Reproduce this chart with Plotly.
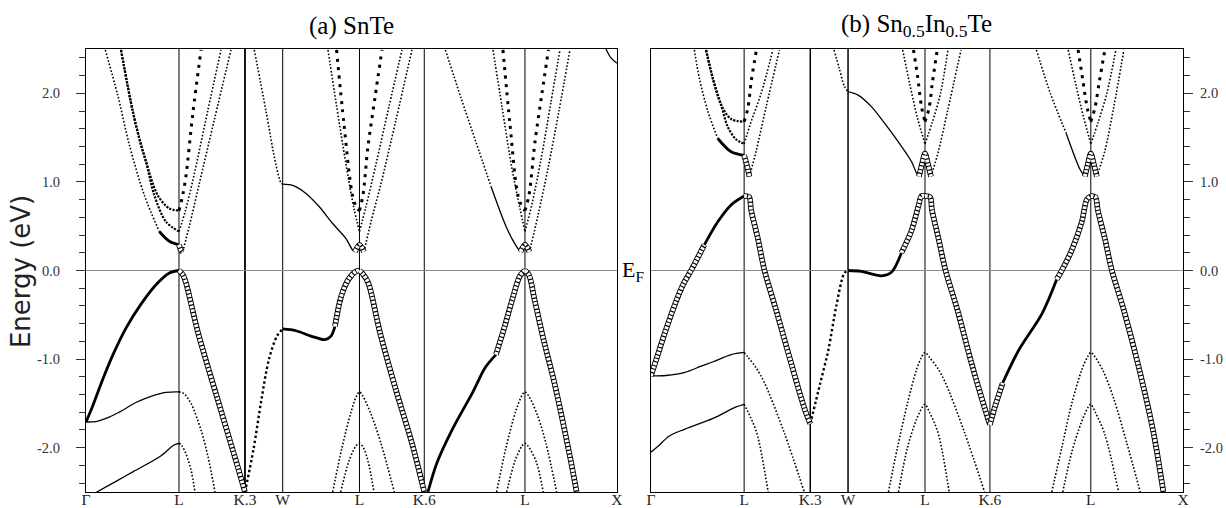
"""Band structures of SnTe and Sn0.5In0.5Te along the Γ-L-K-W-L-K-L-X path."""

import plotly.graph_objects as go

# high-symmetry points (same path in both panels)
K_TICKS = [0.0, 0.93, 1.59, 1.967, 2.735, 3.383, 4.39, 5.31]
K_LABELS = ["Γ", "L", "K.3", "W", "L", "K.6", "L", "X"]
E_TICKS = [-2.0, -1.0, 0.0, 1.0, 2.0]
E_LABELS = ["-2.0", "-1.0", "0.0", "1.0", "2.0"]

# ---- (a) SnTe: (k, E) knots ----
A_VB1_GL = [(0, -1.71), (0.06, -1.55), (0.16, -1.25), (0.27, -0.95), (0.4, -0.65),
            (0.55, -0.38), (0.7, -0.16), (0.83, -0.03), (0.93, 0.0)]
A_VB2_GL = [(0, -1.71), (0.1, -1.705), (0.2, -1.67), (0.33, -1.6), (0.5, -1.49),
            (0.65, -1.42), (0.8, -1.375), (0.93, -1.37)]
A_VB3_GL = [(0.107, -2.5), (0.3, -2.38), (0.473, -2.27), (0.74, -2.1), (0.88, -1.97), (0.93, -1.95)]
A_VB1_LK = [(0.93, 0.0), (0.97, -0.05), (1.0, -0.14), (1.12, -0.7), (1.318, -1.46),
            (1.516, -2.21), (1.59, -2.5)]
A_VB2_LK = [(0.93, -1.37), (0.98, -1.39), (1.05, -1.5), (1.15, -1.8), (1.22, -2.1), (1.29, -2.5)]
A_VB3_LK = [(0.93, -1.95), (0.96, -1.98), (1.0, -2.07), (1.05, -2.25), (1.09, -2.5)]
A_VB_KW = [(1.59, -2.5), (1.675, -2.02), (1.754, -1.46), (1.83, -1.0), (1.91, -0.74), (1.967, -0.66)]
A_VB_WL_FAT = [(1.967, -0.66), (2.1, -0.68), (2.25, -0.74), (2.39, -0.78), (2.45, -0.74), (2.49, -0.63)]
A_VB_WL_RING = [(2.49, -0.63), (2.55, -0.3), (2.625, -0.1), (2.7, -0.01), (2.735, 0.0)]
A_VB_LK6 = [(2.735, 0.0), (2.77, -0.04), (2.823, -0.14), (2.94, -0.7), (3.1, -1.35),
            (3.26, -1.95), (3.383, -2.5)]
A_VB_L2_1 = [(2.467, -2.5), (2.56, -2.0), (2.65, -1.6), (2.7, -1.43), (2.735, -1.37),
             (2.77, -1.42), (2.85, -1.62), (2.95, -1.95), (3.083, -2.5)]
A_VB_L2_2 = [(2.547, -2.5), (2.63, -2.15), (2.7, -1.98), (2.735, -1.95), (2.77, -1.99),
             (2.82, -2.15), (2.88, -2.5)]
A_VB_K6L_FAT = [(3.42, -2.5), (3.51, -2.17), (3.67, -1.78), (3.87, -1.37), (3.99, -1.1), (4.1, -0.95)]
A_VB_K6L_RING = [(4.1, -0.95), (4.19, -0.62), (4.27, -0.3), (4.34, -0.06), (4.39, 0.0)]
A_VB_LX = [(4.39, 0.0), (4.43, -0.05), (4.486, -0.33), (4.58, -0.8), (4.685, -1.27),
           (4.84, -2.1), (4.907, -2.5)]
A_VB_L3_1 = [(4.107, -2.5), (4.2, -2.0), (4.3, -1.58), (4.36, -1.41), (4.39, -1.37),
             (4.43, -1.42), (4.52, -1.65), (4.6, -1.95), (4.707, -2.5)]
A_VB_L3_2 = [(4.207, -2.5), (4.29, -2.15), (4.36, -1.98), (4.39, -1.95), (4.42, -1.98),
             (4.5, -2.15), (4.573, -2.5)]

A_CB_G1 = [(0.193, 2.49), (0.317, 1.98), (0.433, 1.42), (0.583, 0.85), (0.733, 0.44)]
A_CB_G1_FAT = [(0.733, 0.44), (0.833, 0.33), (0.93, 0.29)]
A_CB_G2 = [(0.35, 2.49), (0.467, 1.8), (0.55, 1.42), (0.6, 1.23), (0.717, 0.85), (0.833, 0.7), (0.93, 0.677)]
A_CB_G3 = [(0.35, 2.49), (0.467, 1.8), (0.55, 1.42), (0.6, 1.23), (0.683, 0.85), (0.8, 0.55), (0.93, 0.44)]
A_CB_L1_RING = [(0.93, 0.29), (0.95, 0.23), (0.967, 0.21)]
A_CB_R1 = [(0.93, 0.677), (0.967, 0.85), (1.0, 1.07), (1.067, 1.76), (1.15, 2.49)]
A_CB_R2 = [(0.93, 0.44), (0.993, 0.67), (1.073, 1.04), (1.217, 1.8), (1.35, 2.49)]
A_CB_R3 = [(0.967, 0.21), (1.033, 0.5), (1.133, 0.98), (1.283, 1.7), (1.45, 2.49)]
A_CB_KW = [(1.683, 2.49), (1.8, 1.8), (1.9, 1.19), (1.95, 0.99), (1.967, 0.975)]
A_CB_WL = [(1.967, 0.975), (2.067, 0.96), (2.2, 0.87), (2.333, 0.72), (2.467, 0.53),
           (2.6, 0.36), (2.667, 0.23), (2.69, 0.21)]
A_CB_L2_RING = [(2.69, 0.21), (2.735, 0.29), (2.78, 0.21)]
A_CB_L2_A = [(2.42, 2.49), (2.5, 1.9), (2.6, 1.2), (2.68, 0.7), (2.735, 0.44)]
A_CB_L2_B = [(2.506, 2.49), (2.58, 1.65), (2.665, 0.85), (2.71, 0.7), (2.735, 0.677)]
A_CB_L2_C = [(2.735, 0.677), (2.77, 0.85), (2.82, 1.4), (2.89, 1.95), (2.96, 2.49)]
A_CB_L2_D = [(2.735, 0.44), (2.8, 0.72), (2.9, 1.2), (3.03, 1.85), (3.16, 2.49)]
A_CB_L2_E = [(2.78, 0.21), (2.85, 0.55), (2.95, 0.98), (3.1, 1.7), (3.26, 2.49)]
A_CB_K6L_DOTS = [(3.595, 2.49), (3.75, 1.95), (3.9, 1.45), (4.05, 0.95)]
A_CB_K6L_LINE = [(4.05, 0.95), (4.2, 0.5), (4.3, 0.28), (4.345, 0.21)]
A_CB_L3_RING = [(4.345, 0.21), (4.39, 0.29), (4.435, 0.21)]
A_CB_L3_A = [(4.07, 2.49), (4.16, 1.85), (4.26, 1.15), (4.34, 0.7), (4.39, 0.44)]
A_CB_L3_B = [(4.17, 2.49), (4.24, 1.65), (4.32, 0.85), (4.37, 0.7), (4.39, 0.677)]
A_CB_L3_C = [(4.39, 0.677), (4.43, 0.85), (4.49, 1.45), (4.56, 2.0), (4.625, 2.49)]
A_CB_L3_D = [(4.39, 0.44), (4.46, 0.75), (4.55, 1.25), (4.65, 1.9), (4.74, 2.49)]
A_CB_L3_E = [(4.435, 0.21), (4.52, 0.62), (4.62, 1.15), (4.73, 1.8), (4.84, 2.49)]
A_CB_X = [(5.2, 2.5), (5.25, 2.4), (5.31, 2.34)]

# ---- (b) Sn0.5In0.5Te ----
B_VB1_GL_RING = [(0, -1.19), (0.06, -0.98), (0.14, -0.7), (0.24, -0.38), (0.32, -0.16),
                 (0.4, 0.0), (0.533, 0.29)]
B_VB1_GL_FAT = [(0.533, 0.29), (0.667, 0.55), (0.8, 0.74), (0.93, 0.84)]
B_VB2_GL = [(0, -1.19), (0.15, -1.185), (0.34, -1.15), (0.5, -1.08), (0.62, -1.03), (0.8, -0.95), (0.93, -0.925)]
B_VB3_GL = [(0, -2.05), (0.065, -1.99), (0.18, -1.87), (0.34, -1.79), (0.62, -1.67), (0.85, -1.54), (0.93, -1.51)]
B_VB1_LK = [(0.93, 0.84), (0.98, 0.83), (1.0, 0.68), (1.067, 0.36), (1.133, 0.0),
            (1.25, -0.45), (1.4, -1.05), (1.53, -1.55), (1.59, -1.73)]
B_VB2_LK = [(0.93, -0.925), (0.97, -0.98), (1.05, -1.1), (1.134, -1.27), (1.33, -1.83), (1.53, -2.5)]
B_VB3_LK = [(0.93, -1.51), (0.97, -1.6), (1.055, -1.83), (1.17, -2.5)]
B_VB_KW = [(1.59, -1.73), (1.69, -1.27), (1.77, -0.9), (1.85, -0.4), (1.93, -0.03), (1.967, 0.0)]
B_VB_WL_FAT = [(1.967, 0.0), (2.1, -0.01), (2.3, -0.06), (2.4, -0.02), (2.5, 0.2)]
B_VB_WL_RING = [(2.5, 0.2), (2.6, 0.45), (2.67, 0.73), (2.7, 0.84), (2.735, 0.84)]
B_VB_LK6 = [(2.735, 0.84), (2.785, 0.83), (2.805, 0.68), (2.87, 0.36), (2.94, 0.0),
            (3.06, -0.45), (3.2, -1.05), (3.33, -1.55), (3.383, -1.74)]
B_VB_L2_1 = [(2.37, -2.5), (2.46, -2.0), (2.56, -1.5), (2.65, -1.12), (2.7, -0.98), (2.735, -0.925),
             (2.78, -0.98), (2.86, -1.1), (2.94, -1.27), (3.13, -1.83), (3.33, -2.5)]
B_VB_L2_2 = [(2.47, -2.5), (2.56, -2.0), (2.65, -1.68), (2.71, -1.54), (2.735, -1.51),
             (2.78, -1.6), (2.865, -1.83), (2.976, -2.5)]
B_VB_K6L_RING1 = [(3.383, -1.74), (3.43, -1.55), (3.51, -1.27)]
B_VB_K6L_FAT = [(3.51, -1.27), (3.67, -0.9), (3.906, -0.48), (4.05, -0.1)]
B_VB_K6L_RING2 = [(4.05, -0.1), (4.1, 0.0), (4.2, 0.23), (4.3, 0.55), (4.35, 0.8), (4.39, 0.84)]
B_VB_LX = [(4.39, 0.84), (4.435, 0.83), (4.46, 0.68), (4.53, 0.36), (4.6, 0.0),
           (4.72, -0.45), (4.87, -1.1), (5.015, -1.83), (5.114, -2.5)]
B_VB_L3_1 = [(4.0, -2.5), (4.1, -2.0), (4.2, -1.5), (4.3, -1.12), (4.355, -0.98), (4.39, -0.925),
             (4.435, -0.98), (4.52, -1.15), (4.62, -1.45), (4.75, -1.95), (4.883, -2.5)]
B_VB_L3_2 = [(4.11, -2.5), (4.2, -2.05), (4.3, -1.7), (4.365, -1.54), (4.39, -1.51),
             (4.435, -1.6), (4.53, -1.85), (4.667, -2.5)]

B_CB_G1 = [(0.433, 2.49), (0.483, 2.17), (0.567, 1.8), (0.667, 1.49)]
B_CB_G1_FAT = [(0.667, 1.49), (0.8, 1.34), (0.93, 1.3)]
B_CB_G2 = [(0.55, 2.49), (0.617, 2.17), (0.7, 1.87), (0.8, 1.71), (0.93, 1.68)]
B_CB_G3 = [(0.55, 2.49), (0.617, 2.17), (0.7, 1.87), (0.767, 1.62), (0.85, 1.48), (0.93, 1.43)]
B_CB_L1_RING = [(0.93, 1.3), (0.955, 1.2), (0.983, 1.06)]
B_CB_R1 = [(0.93, 1.68), (0.967, 1.83), (1.0, 2.13), (1.033, 2.36), (1.05, 2.47)]
B_CB_R2 = [(0.93, 1.43), (1.0, 1.68), (1.1, 2.0), (1.217, 2.49)]
B_CB_R3 = [(0.983, 1.06), (1.05, 1.35), (1.15, 1.85), (1.283, 2.49)]
B_CB_KW = [(1.827, 2.49), (1.88, 2.28), (1.93, 2.08), (1.967, 2.02)]
B_CB_WL = [(1.967, 2.02), (2.067, 1.98), (2.2, 1.85), (2.333, 1.66), (2.467, 1.455),
           (2.6, 1.23), (2.65, 1.1), (2.675, 1.06)]
B_CB_L2_RING = [(2.675, 1.06), (2.705, 1.2), (2.735, 1.32), (2.765, 1.2), (2.795, 1.06)]
B_CB_L2_A = [(2.512, 2.49), (2.58, 2.12), (2.66, 1.72), (2.735, 1.43)]
B_CB_L2_B = [(2.62, 2.49), (2.66, 2.2), (2.7, 1.85), (2.735, 1.68)]
B_CB_L2_C = [(2.735, 1.68), (2.775, 1.83), (2.81, 2.13), (2.857, 2.49)]
B_CB_L2_D = [(2.735, 1.43), (2.81, 1.68), (2.89, 2.0), (2.964, 2.49)]
B_CB_L2_E = [(2.795, 1.06), (2.87, 1.35), (2.96, 1.8), (3.095, 2.49)]
B_CB_K6L_DOTS = [(3.847, 2.49), (3.986, 2.0), (4.144, 1.55)]
B_CB_K6L_LINE = [(4.144, 1.55), (4.283, 1.14), (4.33, 1.06)]
B_CB_L3_RING = [(4.33, 1.06), (4.36, 1.2), (4.39, 1.32), (4.42, 1.2), (4.45, 1.06)]
B_CB_L3_A = [(4.164, 2.49), (4.24, 2.1), (4.32, 1.72), (4.39, 1.43)]
B_CB_L3_B = [(4.263, 2.49), (4.31, 2.15), (4.355, 1.83), (4.39, 1.68)]
B_CB_L3_C = [(4.39, 1.68), (4.43, 1.83), (4.475, 2.13), (4.53, 2.49)]
B_CB_L3_D = [(4.39, 1.43), (4.465, 1.68), (4.55, 2.0), (4.64, 2.49)]
B_CB_L3_E = [(4.45, 1.06), (4.53, 1.35), (4.62, 1.85), (4.72, 2.49)]

# which look each segment gets (fat-band weight in the original)
PANEL_A = [
    (A_VB2_GL, "line"), (A_VB3_GL, "line"), (A_VB1_GL, "fat"),
    (A_VB2_LK, "dots"), (A_VB3_LK, "dots"), (A_VB_KW, "mdots"),
    (A_VB_L2_1, "dots"), (A_VB_L2_2, "dots"), (A_VB_L3_1, "dots"), (A_VB_L3_2, "dots"),
    (A_VB_WL_FAT, "fat"), (A_VB_K6L_FAT, "fat"),
    (A_VB1_LK, "rings"), (A_VB_WL_RING, "rings"), (A_VB_LK6, "rings"),
    (A_VB_K6L_RING, "rings"), (A_VB_LX, "rings"),
    (A_CB_G1, "dots"), (A_CB_G1_FAT, "fat"), (A_CB_G2, "hdots"), (A_CB_G3, "hdots"),
    (A_CB_R1, "bdots"), (A_CB_R2, "dots"), (A_CB_R3, "dots"), (A_CB_KW, "dots"),
    (A_CB_WL, "line"), (A_CB_L2_A, "dots"), (A_CB_L2_B, "bdots"), (A_CB_L2_C, "bdots"),
    (A_CB_L2_D, "dots"), (A_CB_L2_E, "dots"), (A_CB_K6L_DOTS, "dots"), (A_CB_K6L_LINE, "line"),
    (A_CB_L3_A, "dots"), (A_CB_L3_B, "bdots"), (A_CB_L3_C, "bdots"), (A_CB_L3_D, "dots"),
    (A_CB_L3_E, "dots"), (A_CB_X, "line"),
    (A_CB_L1_RING, "rings"), (A_CB_L2_RING, "rings"), (A_CB_L3_RING, "rings"),
]
PANEL_B = [
    (B_VB2_GL, "line"), (B_VB3_GL, "line"), (B_VB1_GL_FAT, "fat"),
    (B_VB2_LK, "dots"), (B_VB3_LK, "dots"), (B_VB_KW, "mdots"),
    (B_VB_L2_1, "dots"), (B_VB_L2_2, "dots"), (B_VB_L3_1, "dots"), (B_VB_L3_2, "dots"),
    (B_VB_WL_FAT, "fat"), (B_VB_K6L_FAT, "fat"),
    (B_VB1_GL_RING, "rings"), (B_VB1_LK, "rings"), (B_VB_WL_RING, "rings"), (B_VB_LK6, "rings"),
    (B_VB_K6L_RING1, "rings"), (B_VB_K6L_RING2, "rings"), (B_VB_LX, "rings"),
    (B_CB_G1, "dots"), (B_CB_G1_FAT, "fat"), (B_CB_G2, "hdots"), (B_CB_G3, "hdots"),
    (B_CB_R1, "bdots"), (B_CB_R2, "dots"), (B_CB_R3, "dots"), (B_CB_KW, "dots"),
    (B_CB_WL, "line"), (B_CB_L2_A, "dots"), (B_CB_L2_B, "bdots"), (B_CB_L2_C, "bdots"),
    (B_CB_L2_D, "dots"), (B_CB_L2_E, "dots"), (B_CB_K6L_DOTS, "dots"), (B_CB_K6L_LINE, "line"),
    (B_CB_L3_A, "dots"), (B_CB_L3_B, "bdots"), (B_CB_L3_C, "bdots"), (B_CB_L3_D, "dots"),
    (B_CB_L3_E, "dots"),
    (B_CB_L1_RING, "rings"), (B_CB_L2_RING, "rings"), (B_CB_L3_RING, "rings"),
]

# stroke layers per look; "rings" = black ribbon with a dashed white core (open circles)
STYLES = {
    "line": [dict(width=1.3)],
    "fat": [dict(width=2.8)],
    "dots": [dict(width=1.6, dash="1.6px,1.9px")],
    "hdots": [dict(width=2.2, dash="2.2px,1.3px")],
    "mdots": [dict(width=2.4, dash="2.4px,2.6px")],
    "bdots": [dict(width=3.0, dash="3px,5.5px")],
    "rings": [dict(width=5.6), dict(width=3.8, dash="2.6px,1.2px", color="white")],
}

SERIF = "Liberation Serif"


def add_band(fig, pts, look, xa, ya):
    ks = [p[0] for p in pts]
    es = [p[1] for p in pts]
    for layer in STYLES[look]:
        fig.add_trace(
            go.Scatter(
                x=ks, y=es, xaxis=xa, yaxis=ya, mode="lines",
                line=dict(color=layer.get("color", "black"), width=layer["width"],
                          dash=layer.get("dash", "solid"), shape="spline", smoothing=0.9),
                hoverinfo="skip", showlegend=False,
            )
        )


fig = go.Figure()
for pts, look in PANEL_A:
    add_band(fig, pts, look, "x", "y")
for pts, look in PANEL_B:
    add_band(fig, pts, look, "x2", "y2")

# vertical lines at the inner high-symmetry points, Fermi level line
for xa, ya, widths in (("x", "y", [1, 1.8, 1, 1, 1, 1]), ("x2", "y2", [1, 1.5, 1.5, 1, 1, 1])):
    for k, w in zip(K_TICKS[1:-1], widths):
        fig.add_shape(type="line", xref=xa, yref=ya + " domain", x0=k, x1=k, y0=0, y1=1,
                      line=dict(color="black", width=w), layer="below")
    fig.add_shape(type="line", xref=xa + " domain", yref=ya, x0=0, x1=1, y0=0, y1=0,
                  line=dict(color="#8a8a8a", width=1), layer="below")

xaxis_common = dict(
    range=[K_TICKS[0], K_TICKS[-1]], tickmode="array", tickvals=K_TICKS, ticktext=K_LABELS,
    ticks="", showline=True, mirror=True, linecolor="black", linewidth=1.2,
    showgrid=False, zeroline=False, automargin=False, ticklabelstandoff=-7,
    tickfont=dict(family=SERIF, size=15.5, color="#222"),
)
yaxis_common = dict(
    range=[-2.5, 2.5], tickmode="array", tickvals=E_TICKS, ticktext=E_LABELS,
    ticks="outside", ticklen=9, tickcolor="#333", showline=True, mirror=True,
    linecolor="black", linewidth=1.2, showgrid=False, zeroline=False, automargin=False,
    minor=dict(dtick=0.2, tick0=0, ticks="outside", ticklen=6, tickcolor="#333"),
    tickfont=dict(family=SERIF, size=14.5, color="#333"),
)

fig.update_layout(
    width=1226, height=508,
    margin=dict(l=86, r=43, t=49, b=16),
    paper_bgcolor="white", plot_bgcolor="white",
    xaxis=dict(domain=[0, 0.484], anchor="y", **xaxis_common),
    xaxis2=dict(domain=[0.515, 1], anchor="y2", **xaxis_common),
    yaxis=dict(domain=[0, 1], anchor="x", side="left", ticklabelstandoff=13, **yaxis_common),
    yaxis2=dict(domain=[0, 1], anchor="x2", side="right", ticklabelstandoff=4, **yaxis_common),
    annotations=[
        dict(text="(a) SnTe", xref="paper", yref="paper", x=0.242, y=1.052,
             xanchor="center", yanchor="middle", showarrow=False,
             font=dict(family=SERIF, size=25, color="black")),
        dict(text="(b) Sn<sub>0.5</sub>In<sub>0.5</sub>Te", xref="paper", yref="paper",
             x=0.7575, y=1.052, xanchor="center", yanchor="middle", showarrow=False,
             font=dict(family=SERIF, size=25, color="black")),
        dict(text="Energy (eV)", xref="paper", yref="paper", x=-0.059, y=0.497,
             xanchor="center", yanchor="middle", textangle=-90, showarrow=False,
             font=dict(family="DejaVu Sans", size=26, color="#222")),
        dict(text="E<sub>F</sub>", xref="paper", yref="y", x=0.4868, y=0,
             xanchor="left", yanchor="middle", showarrow=False,
             font=dict(family=SERIF, size=22, color="black")),
    ],
)

# drop the browser's default body margin so the figure sits at the page origin
fig.write_html("out.html", config={"displayModeBar": False},
               post_script="document.body.style.margin='0';")
